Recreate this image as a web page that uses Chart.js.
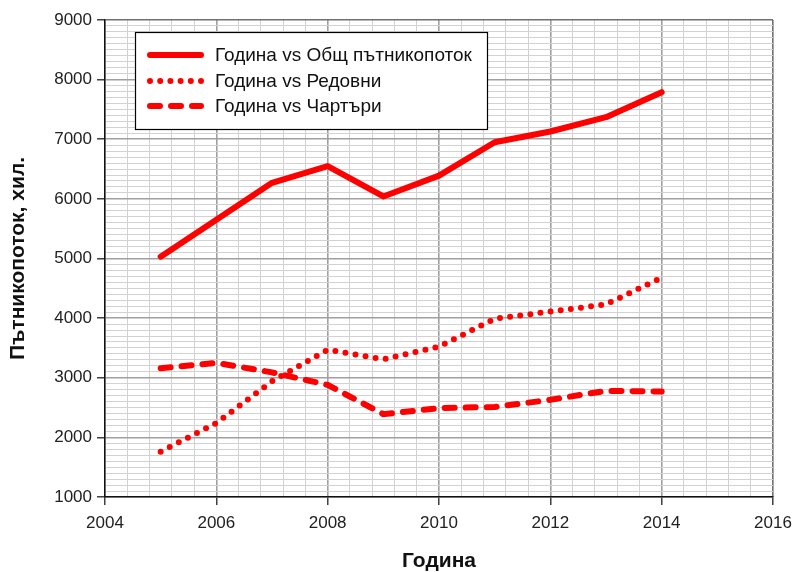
<!DOCTYPE html>
<html>
<head>
<meta charset="utf-8">
<script src="https://cdn.jsdelivr.net/npm/chart.js@4.4.1/dist/chart.umd.min.js"></script>
<style>
  html, body { margin: 0; padding: 0; background: #ffffff; }
  #wrap { width: 794px; height: 572px; position: relative; }
</style>
</head>
<body>
<div id="wrap"><canvas id="c" width="794" height="572"></canvas></div>
<script>
// ---- Data ----
const years = [2005, 2006, 2007, 2008, 2009, 2010, 2011, 2012, 2013, 2014];
const totalPassengers = [5030, 5650, 6270, 6550, 6040, 6390, 6950, 7130, 7370, 7790];
const regularFlights = [1760, 2240, 2940, 3470, 3310, 3520, 3990, 4110, 4230, 4680];
const charterFlights = [3160, 3250, 3090, 2880, 2390, 2490, 2510, 2630, 2780, 2770];

const seriesLabels = ['Година vs Общ пътникопоток', 'Година vs Редовни', 'Година vs Чартъри'];
const xTickLabels = [2004, 2006, 2008, 2010, 2012, 2014, 2016];
const yTickLabels = [1000, 2000, 3000, 4000, 5000, 6000, 7000, 8000, 9000];
const xTitle = 'Година';
const yTitle = 'Пътникопоток, хил.';

const RED = '#ff0000';
const FONT = "'Liberation Sans', Arial, sans-serif";

function toPoints(vals) { return years.map((y, i) => ({ x: y, y: vals[i] })); }

const isMajorX = v => xTickLabels.includes(Math.round(v * 10) / 10);
const isMajorY = v => yTickLabels.includes(Math.round(v));

// Legend drawn inside the plot area
const insideLegend = {
  id: 'insideLegend',
  afterDatasetsDraw(chart) {
    const ctx = chart.ctx;
    const bx = 135, by = 32, bw = 352, bh = 97;
    ctx.save();
    ctx.fillStyle = '#ffffff';
    ctx.fillRect(bx, by, bw, bh);
    ctx.strokeStyle = '#000000';
    ctx.lineWidth = 1.2;
    ctx.strokeRect(bx + 0.5, by + 0.5, bw, bh);
    const rows = [55, 81, 106];
    chart.data.datasets.forEach((ds, i) => {
      const y = rows[i];
      ctx.beginPath();
      ctx.strokeStyle = ds.borderColor;
      ctx.lineWidth = ds.borderWidth;
      ctx.lineCap = ds.borderCapStyle || 'butt';
      ctx.setLineDash(ds.borderDash || []);
      ctx.moveTo(150, y);
      ctx.lineTo(201, y);
      ctx.stroke();
      ctx.setLineDash([]);
      ctx.fillStyle = '#111111';
      ctx.font = '19px ' + FONT;
      ctx.textBaseline = 'middle';
      ctx.textAlign = 'left';
      ctx.fillText(ds.label, 215, y + 1);
    });
    ctx.restore();
  }
};

const chart = new Chart(document.getElementById('c'), {
  type: 'line',
  data: {
    datasets: [
      { label: seriesLabels[0], data: toPoints(totalPassengers), borderColor: RED, borderWidth: 6,
        borderCapStyle: 'round', borderJoinStyle: 'round', pointRadius: 0, tension: 0, fill: false },
      { label: seriesLabels[1], data: toPoints(regularFlights), borderColor: RED, borderWidth: 6,
        borderCapStyle: 'round', borderDash: [0, 10.2], pointRadius: 0, tension: 0, fill: false },
      { label: seriesLabels[2], data: toPoints(charterFlights), borderColor: RED, borderWidth: 6,
        borderCapStyle: 'round', borderDash: [10, 11], pointRadius: 0, tension: 0, fill: false }
    ]
  },
  options: {
    responsive: false,
    animation: false,
    devicePixelRatio: 1,
    layout: { padding: { left: 0, top: 20, right: 21, bottom: 0 } },
    plugins: { legend: { display: false }, tooltip: { enabled: false } },
    scales: {
      x: {
        type: 'linear',
        min: 2004, max: 2016,
        afterFit(scale) { scale.height = 75; scale.paddingRight = 0; scale.paddingLeft = 0; },
        ticks: {
          stepSize: 0.4,
          autoSkip: false,
          maxRotation: 0,
          padding: 8,
          color: '#222222',
          font: { family: FONT, size: 17 },
          callback: v => isMajorX(v) ? String(Math.round(v)) : ''
        },
        grid: {
          color: ctx => {
            const v = ctx.tick ? ctx.tick.value : 0;
            if (Math.abs(v - 2016) < 1e-6) return '#707070';
            return isMajorX(v) ? '#a0a0a0' : '#d2d2d2';
          },
          lineWidth: ctx => (ctx.tick && isMajorX(ctx.tick.value)) ? 1.6 : 1,
          tickLength: 8,
          tickColor: ctx => (ctx.tick && isMajorX(ctx.tick.value)) ? '#222222' : 'rgba(0,0,0,0)',
          tickWidth: 1.3
        },
        border: { color: '#111111', width: 1.5 },
        title: {
          display: true,
          text: xTitle,
          color: '#111111',
          font: { family: FONT, size: 21, weight: 'bold', lineHeight: 1 },
          padding: { top: 0, bottom: 0 }
        }
      },
      y: {
        type: 'linear',
        min: 1000, max: 9000,
        afterFit(scale) { scale.width = 105; scale.paddingTop = 0; scale.paddingBottom = 0; },
        ticks: {
          stepSize: 100,
          autoSkip: false,
          padding: 5,
          color: '#222222',
          font: { family: FONT, size: 17 },
          callback: v => isMajorY(v) ? String(Math.round(v)) : ''
        },
        grid: {
          color: ctx => {
            const v = ctx.tick ? ctx.tick.value : 0;
            if (Math.abs(v - 9000) < 1e-6) return '#707070';
            return isMajorY(v) ? '#a0a0a0' : '#d2d2d2';
          },
          lineWidth: ctx => (ctx.tick && isMajorY(ctx.tick.value)) ? 1.6 : 1,
          tickLength: 8,
          tickColor: ctx => (ctx.tick && isMajorY(ctx.tick.value)) ? '#222222' : 'rgba(0,0,0,0)',
          tickWidth: 1.3
        },
        border: { color: '#111111', width: 1.5 },
        title: {
          display: true,
          text: yTitle,
          color: '#111111',
          font: { family: FONT, size: 21, weight: 'bold', lineHeight: 1.2 },
          padding: { top: 6, bottom: 0 }
        }
      }
    }
  },
  plugins: [insideLegend]
});
</script>
</body>
</html>
